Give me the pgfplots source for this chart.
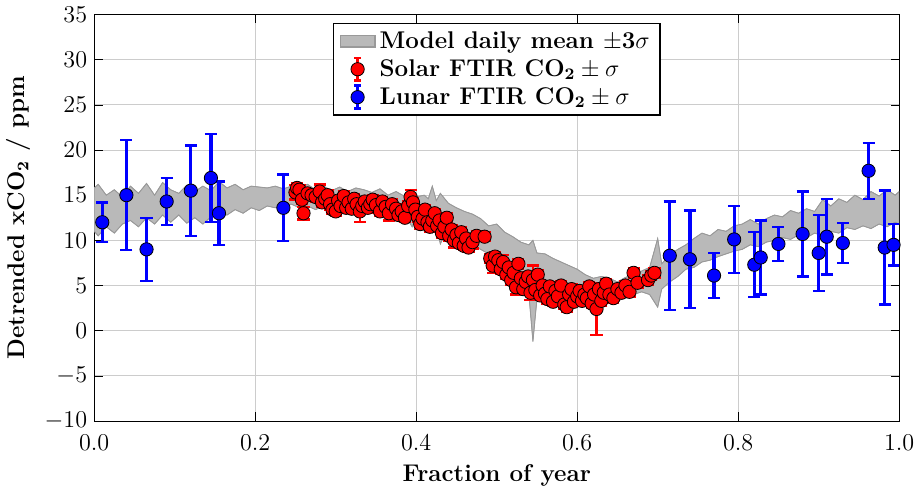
\documentclass[border=0pt]{standalone}
\usepackage{pgfplots}
\pgfplotsset{compat=1.18}
\usepgfplotslibrary{fillbetween}
\usepackage{pgfplotstable}
\pgfplotstableread{
x lo hi
0.000 11.0 15.8
0.005 10.5 16.2
0.015 11.5 15.0
0.025 10.8 15.6
0.035 11.8 14.8
0.045 12.2 16.0
0.055 11.5 15.2
0.065 12.5 16.3
0.075 11.8 15.0
0.085 12.8 16.4
0.095 12.0 15.6
0.105 12.8 15.2
0.115 11.9 16.1
0.125 12.5 15.4
0.135 11.8 16.0
0.145 12.6 15.5
0.155 13.0 16.5
0.165 12.8 15.8
0.175 13.4 16.2
0.185 13.0 15.6
0.195 13.6 16.0
0.205 13.3 15.9
0.215 13.8 15.8
0.225 13.6 16.0
0.235 13.9 15.7
0.245 14.0 16.0
0.255 13.6 15.9
0.265 13.8 16.2
0.275 13.4 15.6
0.285 13.8 16.0
0.295 13.5 15.5
0.305 13.6 15.9
0.315 13.2 15.4
0.325 13.7 15.8
0.335 13.3 15.6
0.345 13.6 15.3
0.355 13.2 15.7
0.365 13.5 15.0
0.375 12.8 15.4
0.385 12.9 14.9
0.395 11.5 15.2
0.400 12.6 14.8
0.410 11.0 15.0
0.415 11.8 14.6
0.420 10.8 16.0
0.425 11.6 14.4
0.430 9.6 15.2
0.440 11.5 14.1
0.450 10.8 13.6
0.460 10.0 13.2
0.470 9.5 12.9
0.480 9.0 12.4
0.490 8.5 11.6
0.500 7.6 11.8
0.510 6.8 10.9
0.520 6.2 10.4
0.530 5.2 9.8
0.540 4.0 9.5
0.545 -1.2 10.0
0.550 3.5 8.6
0.560 3.8 8.5
0.570 3.4 8.0
0.580 3.2 7.6
0.590 3.0 7.2
0.600 2.9 6.8
0.610 3.0 6.2
0.620 3.2 5.8
0.630 3.0 6.0
0.640 3.4 5.8
0.650 3.3 5.4
0.660 3.6 5.9
0.670 4.0 6.2
0.680 4.3 6.6
0.690 4.0 7.0
0.700 2.6 10.2
0.705 4.6 7.4
0.715 5.4 8.4
0.725 6.0 9.0
0.735 6.8 9.5
0.745 7.0 10.2
0.755 7.6 10.8
0.765 7.8 10.5
0.775 8.2 11.2
0.785 8.5 11.0
0.795 8.8 11.6
0.805 9.0 11.8
0.815 9.5 12.3
0.825 9.3 11.8
0.835 9.8 12.4
0.845 10.0 12.8
0.855 10.3 12.6
0.865 10.1 13.3
0.875 10.6 13.0
0.885 10.3 13.5
0.895 10.8 13.2
0.905 10.5 14.5
0.915 11.0 13.8
0.925 10.8 14.6
0.935 11.4 14.2
0.945 11.2 15.0
0.955 11.6 14.5
0.965 11.3 15.4
0.975 11.8 14.9
0.985 11.5 15.6
0.995 12.0 15.0
1.000 11.8 15.4
}\band
\pgfplotstableread{
x y e
0.010 12.0 2.2
0.040 15.0 6.1
0.065 9.0 3.5
0.090 14.3 2.6
0.120 15.5 5.0
0.145 16.9 4.9
0.155 13.0 3.5
0.235 13.6 3.7
0.715 8.3 6.0
0.740 7.9 5.4
0.770 6.1 2.5
0.795 10.1 3.7
0.820 7.3 3.6
0.828 8.1 4.1
0.850 9.6 1.9
0.880 10.7 4.7
0.900 8.6 4.2
0.910 10.4 4.2
0.930 9.7 2.2
0.962 17.7 3.1
0.982 9.2 6.3
0.993 9.5 2.3
}\lunar
\pgfplotstableread{
x y e
0.250 15.3 0.8
0.252 15.8 0.5
0.255 15.6 0.5
0.258 14.5 0.5
0.260 13.0 0.7
0.265 15.2 0.5
0.270 15.0 0.5
0.275 14.8 0.5
0.280 15.4 0.8
0.283 14.2 0.5
0.287 14.6 0.5
0.290 15.0 0.5
0.293 14.0 0.6
0.296 13.4 0.5
0.300 13.2 0.5
0.303 14.4 0.5
0.306 13.8 0.6
0.310 14.9 0.5
0.313 13.6 0.5
0.316 14.2 0.5
0.320 13.5 0.5
0.323 14.6 0.5
0.326 14.0 0.5
0.330 13.2 1.2
0.333 13.8 0.5
0.336 14.3 0.5
0.340 13.6 0.5
0.343 14.0 0.5
0.346 14.5 0.5
0.350 13.9 0.5
0.355 13.2 0.5
0.358 14.3 0.5
0.362 13.7 0.5
0.366 13.0 0.8
0.370 14.0 0.5
0.375 13.5 0.5
0.378 12.8 0.5
0.382 13.2 0.5
0.386 12.5 0.5
0.390 13.8 0.5
0.393 14.8 0.8
0.396 14.2 0.5
0.399 13.4 0.5
0.402 12.6 0.5
0.405 11.8 0.5
0.408 12.4 0.5
0.411 13.4 0.5
0.414 12.0 0.5
0.417 11.5 0.5
0.420 12.2 0.5
0.423 13.0 0.5
0.426 11.6 0.5
0.429 12.2 0.5
0.432 10.8 0.5
0.435 11.5 0.6
0.438 12.5 0.5
0.441 10.5 0.5
0.444 11.2 0.5
0.447 10.0 0.8
0.450 10.6 0.5
0.453 9.7 0.5
0.456 10.9 0.5
0.459 9.4 0.5
0.462 10.2 0.5
0.465 9.2 0.5
0.470 9.8 0.7
0.475 10.5 0.5
0.485 10.4 0.5
0.492 8.0 0.5
0.495 7.2 0.8
0.498 8.2 0.5
0.502 7.8 0.5
0.505 6.8 0.5
0.508 7.6 0.8
0.512 6.2 0.5
0.515 7.0 0.5
0.518 5.6 0.5
0.521 6.4 0.5
0.524 4.8 0.8
0.527 7.4 0.5
0.530 5.8 0.5
0.533 4.6 0.5
0.536 5.4 0.5
0.539 6.0 0.5
0.542 4.2 0.8
0.545 5.6 1.6
0.548 4.5 0.5
0.551 6.2 0.5
0.554 3.9 0.5
0.557 5.0 0.5
0.560 4.1 0.5
0.563 3.5 0.5
0.566 4.9 0.5
0.570 3.2 0.5
0.573 4.4 0.5
0.576 3.8 0.5
0.580 5.0 0.5
0.584 2.9 0.5
0.587 2.6 0.5
0.590 4.0 0.5
0.593 4.6 0.5
0.596 3.2 0.5
0.600 3.8 0.5
0.603 4.4 0.5
0.606 3.3 0.5
0.609 4.0 0.8
0.612 3.6 0.5
0.615 4.9 0.5
0.618 3.0 0.5
0.621 4.0 0.5
0.624 2.4 2.9
0.627 4.6 0.5
0.630 3.3 0.5
0.633 4.2 0.5
0.636 5.2 0.5
0.640 4.0 0.5
0.645 3.6 0.5
0.650 4.6 0.5
0.655 4.2 0.5
0.660 5.0 0.5
0.665 4.3 0.5
0.670 6.4 0.5
0.675 5.3 0.5
0.688 5.6 0.5
0.692 6.1 0.5
0.696 6.4 0.5
}\solar
\begin{document}
\begin{tikzpicture}
\begin{axis}[
  scale only axis, width=400pt, height=202pt,
  xmin=0, xmax=1, ymin=-10, ymax=35,
  xtick={0,0.2,...,1.0}, ytick={-10,-5,...,35},
  xticklabels={0.0,0.2,0.4,0.6,0.8,1.0},
  ticklabel style={font=\large},
  xticklabel style={yshift=-3pt},
  grid=major, grid style={gray!40},
  tick align=inside, tick style={black},
  label style={font=\large\bfseries},
  xlabel={Fraction of year}, ylabel={Detrended xCO$_\mathbf{2}$ / ppm},
  legend style={at={(0.5,0.98)}, anchor=north, draw=black, thick, font=\large\bfseries, cells={anchor=west}},
  legend cell align=left,
]
\addplot[name path=lo, draw=gray!80, line width=0.3pt, forget plot] table[x=x,y=lo]{\band};
\addplot[name path=hi, draw=gray!80, line width=0.3pt, forget plot] table[x=x,y=hi]{\band};
\addplot[fill=gray!55, draw=gray!80, area legend] fill between[of=lo and hi];
\addlegendentry{Model daily mean $\pm\mathbf{3}\sigma$}
\addplot[only marks, mark=*, mark size=3.3pt, mark options={fill=red, draw=black, thin},
  legend image code/.code={\draw[red, line width=1.2pt] (0.3cm,-0.2cm)--(0.3cm,0.2cm) (0.24cm,-0.2cm)--(0.36cm,-0.2cm) (0.24cm,0.2cm)--(0.36cm,0.2cm); \draw[fill=red,draw=black,thin] (0.3cm,0cm) circle (3.3pt);},
  error bars/.cd, y dir=both, y explicit, error bar style={red, line width=1.2pt}, error mark options={red, line width=1.2pt, mark size=3pt, rotate=90}]
  table[x=x,y=y,y error=e]{\solar};
\addlegendentry{Solar FTIR CO$_\mathbf{2}\pm\sigma$}
\addplot[only marks, mark=*, mark size=3.3pt, mark options={fill=blue, draw=black, thin},
  legend image code/.code={\draw[blue, line width=1.6pt] (0.3cm,-0.2cm)--(0.3cm,0.2cm) (0.24cm,-0.2cm)--(0.36cm,-0.2cm) (0.24cm,0.2cm)--(0.36cm,0.2cm); \draw[fill=blue,draw=black,thin] (0.3cm,0cm) circle (3.3pt);},
  error bars/.cd, y dir=both, y explicit, error bar style={blue, line width=1.6pt}, error mark options={blue, line width=1.2pt, mark size=3pt, rotate=90}]
  table[x=x,y=y,y error=e]{\lunar};
\addlegendentry{Lunar FTIR CO$_\mathbf{2}\pm\sigma$}
\end{axis}
\end{tikzpicture}
\end{document}
